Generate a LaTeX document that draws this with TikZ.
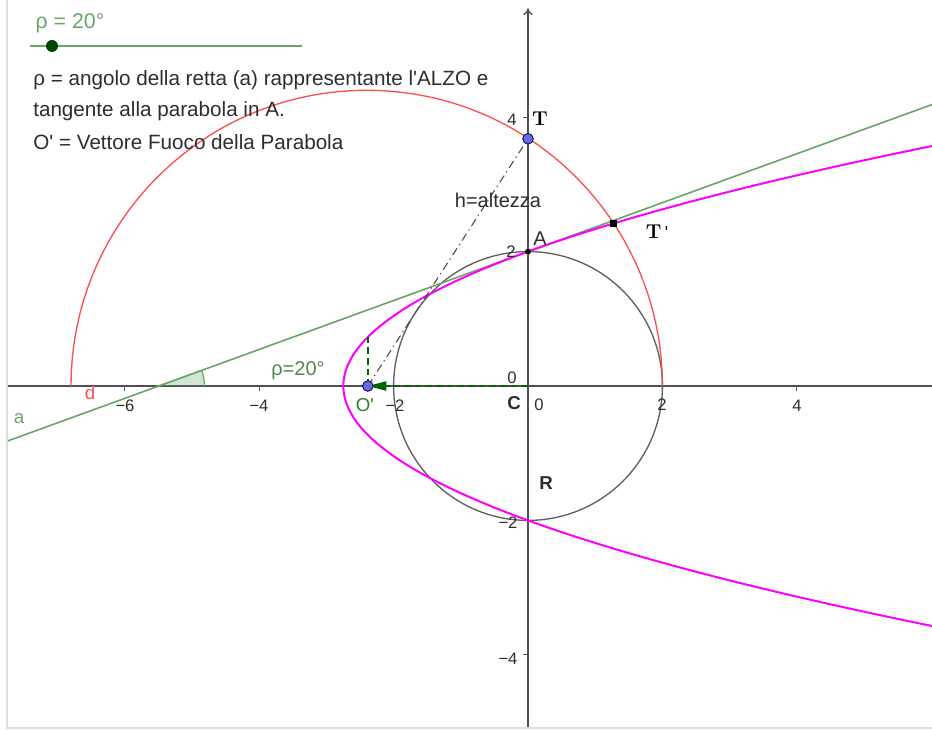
\documentclass[tikz,border=0pt]{standalone}
\usepackage{fontspec}
\setsansfont{Liberation Sans}[Ligatures=TeXOff]
\usetikzlibrary{arrows.meta}
\definecolor{ggreen}{RGB}{105,165,105}
\definecolor{dgreen}{RGB}{0,100,0}
\definecolor{gred}{RGB}{250,80,80}
\definecolor{gmag}{RGB}{255,0,255}
\definecolor{gaxis}{RGB}{80,80,80}
\definecolor{gcirc}{RGB}{95,95,95}
\definecolor{gpt}{RGB}{105,105,225}
\definecolor{gtext}{RGB}{45,45,45}
\tikzset{
  axisline/.style={gaxis, line width=1pt},
  tickmark/.style={gaxis, line width=0.8pt},
  ticklab/.style={gtext, font=\sffamily\fontsize{12.5}{14}\selectfont, inner sep=0pt},
  lab/.style={font=\sffamily\fontsize{15}{18}\selectfont, inner sep=0pt},
  boldlab/.style={font=\sffamily\bfseries\fontsize{14}{17}\selectfont, inner sep=0pt, gtext},
  serifbold/.style={font=\rmfamily\bfseries\fontsize{15}{18}\selectfont, inner sep=0pt},
  infotext/.style={gtext, font=\sffamily\fontsize{15.5}{18}\selectfont, inner sep=0pt, anchor=west},
  bluept/.style={circle, fill=gpt, draw=black!70!blue, line width=0.6pt, minimum size=8pt, inner sep=0pt},
  vecdash/.style={dgreen, line width=1.1pt, dash pattern=on 5pt off 3pt},
}
\begin{document}
\begin{tikzpicture}[x=0.75pt,y=-0.75pt]
\useasboundingbox (0,0) rectangle (932,730);
\begin{scope}
\clip (7,0) rectangle (932,728);
\begin{scope}[shift={(528,386)}, x=50.4pt, y=50.4pt]
  % axes
  \coordinate (xl) at (-8,0);
  \coordinate (xr) at (6.1,0);
  \coordinate (yb) at (0,-5.3);
  \coordinate (yt) at (0,5.62);
  \draw[axisline] (xl) -- (xr);
  \draw[axisline, -{To[length=5pt,width=7pt]}] (yb) -- (yt);
  \foreach \v in {-6,-4,-2,2,4} {\draw[tickmark] (\v,0) -- (\v,-0.075);}
  \foreach \v in {-4,-2,2,4} {\draw[tickmark] (0,\v) -- (-0.075,\v);}
  % key points
  \coordinate (C) at (0,0);
  \coordinate (Op) at (-2.38351,0);
  \coordinate (Ah) at (-2.05,0);
  \coordinate (Pv) at (-2.38351,0.7279);
  \coordinate (T) at (0,3.6789);
  \coordinate (A) at (0,2);
  \coordinate (Tp) at (1.27207,2.41909);
  \coordinate (X) at (-5.4949,0);
  \coordinate (aL) at (-8,-0.91176);
  \coordinate (aR) at (6.2,4.25661);
  % angle
  \fill[ggreen, fill opacity=0.3] (X) -- ++(0:0.68) arc (0:20:0.68) -- cycle;
  \draw[ggreen, line width=0.9pt] (X) ++(0:0.68) arc (0:20:0.68) -- (X);
  % circle R
  \draw[gcirc, line width=1pt] (C) circle (2);
  % red semicircle d
  \draw[gred, line width=1pt] (2,0) arc (0:180:4.4);
  % line a
  \draw[ggreen, line width=1.2pt] (aL) -- (aR);
  % parabola
  \draw[gmag, line width=1.5pt, domain=-5.3:4.6, samples=150, smooth, variable=\t]
     plot ({-2.74748+\t*\t/1.45588}, \t);
  % vector and dashed helpers
  \draw[vecdash] (C) -- (Ah);
  \draw[dgreen, line width=1.1pt, -{Triangle[length=14pt,width=7pt]}] (Ah) -- (Op);
  \draw[vecdash] (Op) -- (Pv);
  \draw[gray!60!black, line width=0.8pt, dash pattern=on 6pt off 3pt on 1pt off 3pt] (Op) -- (T);
  % points
  \node[bluept] (Tpt) at (T) {};
  \node[bluept] (Opt) at (Op) {};
  \fill[black] (A) circle (2.2pt);
  \node[fill=black, minimum size=5pt, inner sep=0pt] (Tpp) at (Tp) {};
\end{scope}
\end{scope}
% frame
\draw[gray!25, line width=1.5pt] (7,0) -- (7,728) -- (932,728);
% slider
\node[lab, ggreen, font=\sffamily\fontsize{16}{19}\selectfont] (sl) at (70,23) {ρ = 20°};
\coordinate (s1) at (30,46);
\coordinate (s2) at (302,46);
\draw[ggreen, line width=1.3pt] (s1) -- (s2);
\node[circle, fill=dgreen!70!black, minimum size=9pt, inner sep=0pt] (sd) at (52,46) {};
% info text
\node[infotext] (t1) at (33,80) {ρ = angolo della retta (a) rappresentante l'ALZO e};
\node[infotext] (t2) at (33,111) {tangente alla parabola in A.};
\node[infotext] (t3) at (33,142) {O' = Vettore Fuoco della Parabola};
% labels
\node[lab, gtext] (hl) at (498,200) {h=altezza};
\node[lab, gtext] (Al) at (540,239) {A};
\node[serifbold] (Tl) at (540,119) {T};
\node[serifbold] (Tpl) at (657,232) {T\,{\sffamily\mdseries\fontsize{13}{15}\selectfont '}};
\node[lab, dgreen!60!ggreen, font=\sffamily\fontsize{14}{17}\selectfont] (Ol) at (365,405) {O'};
\node[boldlab] (Cl) at (514,403) {C};
\node[boldlab] (Rl) at (546,483) {R};
\node[lab, gred, font=\sffamily\fontsize{14}{17}\selectfont] (dl) at (90,393) {d};
\node[lab, ggreen, font=\sffamily\fontsize{14}{17}\selectfont] (al) at (19,419) {a};
\node[lab, ggreen!80!black] (rl) at (298,371) {ρ=20°};
% tick labels
\node[ticklab] (x1) at (125,406) {−6};
\node[ticklab] (x2) at (259,406) {−4};
\node[ticklab] (x3) at (395,406) {−2};
\node[ticklab] (x4) at (539,405) {0};
\node[ticklab] (x5) at (662,405) {2};
\node[ticklab] (x6) at (797,406) {4};
\node[ticklab] (y1) at (512,120) {4};
\node[ticklab] (y2) at (511,252) {2};
\node[ticklab] (y3) at (512,378) {0};
\node[ticklab] (y4) at (508,523) {−2};
\node[ticklab] (y5) at (508,659) {−4};
\end{tikzpicture}
\end{document}
